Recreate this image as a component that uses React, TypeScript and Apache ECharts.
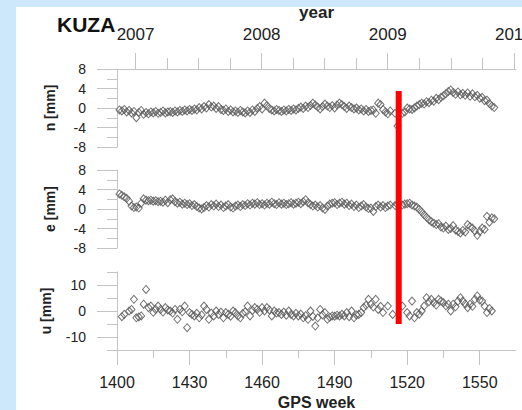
import React, { useEffect, useRef } from "react";
import * as echarts from "echarts";

const stationName = "KUZA";

const weeksNE = [
  1401, 1402, 1403, 1404, 1405, 1406, 1407, 1408, 1409, 1410,
  1411, 1412, 1413, 1414, 1415, 1416, 1417, 1418, 1419, 1420,
  1421, 1422, 1423, 1424, 1425, 1426, 1427, 1428, 1429, 1430,
  1431, 1432, 1433, 1434, 1435, 1436, 1437, 1438, 1439, 1440,
  1441, 1442, 1443, 1444, 1445, 1446, 1447, 1448, 1449, 1450,
  1451, 1452, 1453, 1454, 1455, 1456, 1457, 1458, 1459, 1460,
  1461, 1462, 1463, 1464, 1465, 1466, 1467, 1468, 1469, 1470,
  1471, 1472, 1473, 1474, 1475, 1476, 1477, 1478, 1479, 1480,
  1481, 1482, 1483, 1484, 1485, 1486, 1487, 1488, 1489, 1490,
  1491, 1492, 1493, 1494, 1495, 1496, 1497, 1498, 1499, 1500,
  1501, 1502, 1503, 1504, 1505, 1506, 1507, 1508, 1509, 1510,
  1511, 1512, 1513,
  1515, 1516, 1518, 1519,
  1520, 1521, 1522, 1523, 1524, 1525, 1526, 1527, 1528, 1529,
  1530, 1531, 1532, 1533, 1534, 1535, 1536, 1537, 1538, 1539,
  1540, 1541, 1542, 1543, 1544, 1545, 1546, 1547, 1548, 1549,
  1550, 1551, 1552, 1553, 1554, 1555, 1556,
];

const nValues = [
  -0.4, -0.6, -0.3, -0.8, -0.5, -1.0, -0.7, -2.0, -0.9, -0.5,
  -1.3, -0.9, -1.2, -0.8, -1.0, -0.7, -1.1, -0.9, -0.6, -1.0,
  -0.8, -0.7, -0.9, -0.6, -0.8, -0.5, -0.7, -0.4, -0.6, -0.3,
  -0.5, -0.2, -0.4, 0.1, -0.2, 0.3, 0.0, 0.7, 0.2, 0.4,
  -0.1, 0.3, -0.3, -0.5, -0.2, -0.7, -0.4, -0.8, -0.6, -0.9,
  -0.5, -0.8, -1.0, -0.6, -0.9, -0.4, -0.7, -0.1, 0.3, -0.2,
  1.0, 0.5, -0.1, -0.4, -0.6, -0.3, -0.5, -0.7, -0.4, -0.6,
  -0.3, -0.5, -0.2, -0.4, -0.1, 0.2, -0.1, 0.4, 0.1, 0.5,
  1.0, 0.6, 0.2, -0.2, 0.3, 0.8, 0.4, 0.1, 0.5, 0.0,
  0.6, 1.0, 0.7, 0.3, -0.1, 0.4, 0.1, -0.2, 0.0, -0.4,
  -0.2, -0.6, -0.3, -0.7, -0.5, -0.4, -1.1, 1.0, 0.7, -0.3,
  -0.8, -1.2, -0.6,
  -1.1, -3.7, -1.1, -0.8,
  0.0, -0.2, -0.3, 0.0, 0.4, 0.7, 1.0, 0.8, 1.3, 1.1,
  1.6, 1.4, 2.0, 1.7, 2.2, 2.5, 2.9, 3.4, 3.7, 3.2,
  2.8, 3.3, 2.7, 3.0, 2.6, 3.1, 2.4, 2.9, 2.3, 2.6,
  2.0, 2.2, 1.5, 1.6, 0.9, 0.4, 0.1,
];

const eValues = [
  3.1, 2.8, 2.5, 2.2, 1.6, 0.6, 0.3, 0.4, 0.2, 1.2,
  2.1, 1.8, 1.7, 1.8, 1.6, 1.7, 1.5, 1.6, 1.4, 1.8,
  1.3, 1.9, 2.1, 1.5, 1.2, 1.4, 1.0, 1.2, 0.9, 1.1,
  0.7, 0.9, 0.5, 0.2, 0.0, 0.3, 0.7, 0.4, 0.9, 0.6,
  1.0, 0.5, 0.8, 0.3, 0.6, 0.9, 0.4, 0.2, 0.6, 0.8,
  0.5, 0.9, 0.7, 1.1, 0.8, 1.2, 1.0, 1.3, 0.9, 1.1,
  0.8, 1.2, 1.0, 1.4, 1.1, 0.9, 1.3, 1.0, 1.2, 0.9,
  1.1, 1.3, 1.0, 1.2, 1.4, 1.1, 1.5, 1.9, 1.3, 0.9,
  0.6, 0.8, 0.4, 0.7, 0.2, -0.1, 0.6, 1.0, 1.2, 1.3,
  0.9, 1.2, 1.4, 1.0, 1.2, 0.7, 1.0, 0.5, 0.8, 0.3,
  0.6, 0.9, 0.4, 0.1, 0.2, -0.5, 0.5, 0.8, 0.4, 0.7,
  0.3, 0.6, 0.8,
  0.7, 0.9, 0.8, 1.0,
  1.1, 1.2, 0.8, 0.6, 0.4, -0.1, -0.6, -1.2, -1.7, -2.2,
  -2.6, -2.9, -3.2, -3.0, -3.7, -3.9, -3.5, -4.2, -4.0, -3.4,
  -4.3, -4.6, -4.9, -4.4, -4.7, -3.2, -3.6, -3.9, -4.5, -5.4,
  -4.6, -3.9, -4.2, -1.5, -2.7, -1.8, -2.0,
];

const uWeeks = [
  1402, 1403, 1405, 1406, 1407, 1408, 1409, 1410, 1411, 1412,
  1413, 1414, 1415, 1416, 1417, 1418, 1419, 1420, 1421, 1422,
  1423, 1424, 1425, 1426, 1427, 1428, 1429, 1430, 1431, 1432,
  1433, 1434, 1435, 1436, 1437, 1438, 1439, 1440, 1441, 1442,
  1443, 1444, 1445, 1446, 1447, 1448, 1449, 1450, 1451, 1452,
  1453, 1454, 1455, 1456, 1457, 1458, 1459, 1460, 1461, 1462,
  1463, 1464, 1465, 1466, 1467, 1468, 1469, 1470, 1471, 1472,
  1473, 1474, 1475, 1476, 1477, 1478, 1479, 1480, 1481, 1482,
  1483, 1484, 1485, 1486, 1487, 1488, 1489, 1490, 1491, 1492,
  1493, 1494, 1495, 1496, 1497, 1498, 1499, 1500, 1501, 1502,
  1503, 1504, 1505, 1506, 1507, 1508, 1509, 1510, 1512, 1514,
  1518, 1520, 1521, 1522, 1523, 1524, 1525, 1526, 1527, 1528,
  1529, 1530, 1531, 1532, 1533, 1534, 1535, 1536, 1537, 1538,
  1539, 1540, 1541, 1542, 1543, 1544, 1545, 1546, 1547, 1548,
  1549, 1550, 1551, 1552, 1553, 1554, 1555,
];

const uValues = [
  -2.2, -1.3, 0.0, 0.6, 4.5, -2.6, -2.3, -1.9, 2.6, 8.3,
  1.3, 1.9, -0.5, 0.6, 1.9, 0.6, -0.4, 1.3, 0.4, 0.0,
  -0.8, 0.6, -3.2, 0.6, -0.3, 1.9, -6.4, -0.6, -1.3, -1.9,
  -0.9, -2.6, -1.5, 1.9, 0.6, -3.2, -0.8, -1.9, 0.0, -1.3,
  -0.4, -2.6, -0.6, -1.3, -2.0, 0.0, -0.7, -1.9, -2.6, -1.0,
  -0.3, 1.9, -1.9, 0.2, 1.3, 0.6, -0.5, 1.3, 0.0, 1.3,
  0.4, -1.9, 0.0, -0.8, -0.6, -1.3, -0.4, -1.6, 0.0, -1.3,
  -1.9, -0.9, -1.9, -1.2, -2.6, -1.8, -3.2, 0.0, -2.1, -5.8,
  -2.6, 0.6, -1.5, -0.6, -3.2, -2.4, -1.9, -2.0, -1.6, -1.9,
  -1.3, -1.9, -0.6, -2.2, 0.0, -2.6, -1.5, -1.3, -0.6, 1.3,
  2.2, 4.5, 2.6, 1.5, 4.5, 0.6, 1.8, -0.6, 1.9, -1.3,
  1.9, -0.6, -1.9, 3.8, -2.6, -0.6, -1.2, 0.0, 1.9, 5.1,
  3.6, 4.5, 3.2, 2.3, 4.5, 3.8, 3.2, 2.0, 2.6, 0.0,
  2.6, 1.6, 3.8, 5.1, 3.8, 2.7, 1.3, 2.6, 1.8, 4.5,
  5.8, 4.2, 3.8, 1.9, -0.6, 1.0, 0.0,
];

const gpsWeekLabels = [1400, 1430, 1460, 1490, 1520, 1550];
const gpsWeekMinorTicks = [1415, 1445, 1475, 1505, 1535];
const weekMin = 1400;
const weekMax = 1565;

const yearLabels = [2007, 2008, 2009, 2010];
const yearMinorTicks = [
  2007.25, 2007.5, 2007.75, 2008.25, 2008.5, 2008.75, 2009.25, 2009.5, 2009.75,
];
const yearMin = 2006.853;
const yearMax = 2010.017;

const uMajorTicks = [-10, 0, 10];
const uMinorTicks = [-15, -5, 5, 15];

const redLineWeek = 1516.5;
const redLineSpan = [0.0925, 0.922];

const FONT = "'Liberation Sans', Arial, sans-serif";
const AXIS_COLOR = "#c4c4c4";
const TEXT_COLOR = "#222";

function pairs(xs: number[], ys: number[]) {
  return xs.map((x, i) => [x, ys[i]]);
}

const plain = (v: number) => String(v);

export default function App() {
  const ref = useRef<HTMLDivElement>(null);

  useEffect(() => {
    document.body.style.margin = "0";
    if (!ref.current) return;
    const chart = echarts.init(ref.current, undefined, { renderer: "svg" });

    const L = 117;
    const W = 399;
    const gridTops = [69, 170, 272];
    const H = 78;

    const hiddenX = (gridIndex: number) => ({
      type: "value",
      gridIndex,
      min: weekMin,
      max: weekMax,
      show: false,
    });

    const yLabelStyle = {
      fontSize: 14,
      color: TEXT_COLOR,
      fontFamily: FONT,
      margin: 31,
      formatter: plain,
    };
    const yNameStyle = {
      fontSize: 14,
      fontWeight: "bold",
      color: TEXT_COLOR,
      fontFamily: FONT,
    };

    const nyAxis = (gridIndex: number, name: string) => ({
      type: "value",
      gridIndex,
      min: -8,
      max: 8,
      interval: 4,
      position: "left",
      name,
      nameLocation: "middle",
      nameGap: 60,
      nameTextStyle: yNameStyle,
      axisLine: { show: true, lineStyle: { color: AXIS_COLOR, width: 1 } },
      axisTick: { show: true, length: 20, lineStyle: { color: AXIS_COLOR } },
      minorTick: {
        show: true,
        splitNumber: 2,
        length: 10,
        lineStyle: { color: AXIS_COLOR },
      },
      splitLine: { show: false },
      minorSplitLine: { show: false },
      axisLabel: yLabelStyle,
    });

    const scatterStyle = {
      type: "scatter",
      symbol: "diamond",
      symbolSize: [7, 8],
      itemStyle: {
        color: "rgba(255,255,255,0)",
        borderColor: "#5c5c5c",
        borderWidth: 1,
        opacity: 0.85,
      },
    };

    const gridBase = {
      left: L,
      width: W,
      height: H,
      containLabel: false,
      outerBoundsMode: "none",
    };

    const option: any = {
      animation: false,
      title: {
        text: stationName,
        left: 52,
        top: 9,
        textStyle: {
          fontSize: 21,
          fontWeight: "bold",
          color: "#111",
          fontFamily: FONT,
        },
      },
      grid: [
        { ...gridBase, top: gridTops[0] },
        { ...gridBase, top: gridTops[1] },
        { ...gridBase, top: gridTops[2] },
        { ...gridBase, top: 69, height: 281 },
      ],
      xAxis: [
        hiddenX(0),
        hiddenX(1),
        hiddenX(2),
        {
          type: "value",
          gridIndex: 3,
          min: weekMin,
          max: weekMax,
          position: "bottom",
          name: "GPS week",
          nameLocation: "middle",
          nameGap: 40,
          nameTextStyle: {
            fontSize: 16,
            fontWeight: "bold",
            color: TEXT_COLOR,
            fontFamily: FONT,
          },
          axisLine: { show: true, lineStyle: { color: AXIS_COLOR } },
          axisTick: {
            show: true,
            length: 15,
            customValues: gpsWeekLabels,
            lineStyle: { color: AXIS_COLOR },
          },
          axisLabel: {
            customValues: gpsWeekLabels,
            formatter: plain,
            fontSize: 16,
            color: TEXT_COLOR,
            fontFamily: FONT,
            margin: 24,
          },
          splitLine: { show: false },
        },
        {
          type: "value",
          gridIndex: 3,
          min: weekMin,
          max: weekMax,
          position: "bottom",
          axisLine: { show: false },
          axisTick: {
            show: true,
            length: 8,
            customValues: gpsWeekMinorTicks,
            lineStyle: { color: AXIS_COLOR },
          },
          axisLabel: { show: false },
          splitLine: { show: false },
        },
        {
          type: "value",
          gridIndex: 3,
          min: yearMin,
          max: yearMax,
          position: "top",
          name: "year",
          nameLocation: "middle",
          nameGap: 36,
          nameTextStyle: {
            fontSize: 17,
            fontWeight: "bold",
            color: TEXT_COLOR,
            fontFamily: FONT,
          },
          axisLine: { show: true, lineStyle: { color: AXIS_COLOR } },
          axisTick: {
            show: true,
            length: 16,
            customValues: yearLabels,
            lineStyle: { color: AXIS_COLOR },
          },
          axisLabel: {
            customValues: yearLabels,
            formatter: plain,
            fontSize: 17,
            color: TEXT_COLOR,
            fontFamily: FONT,
            margin: 26,
          },
          splitLine: { show: false },
        },
        {
          type: "value",
          gridIndex: 3,
          min: yearMin,
          max: yearMax,
          position: "top",
          axisLine: { show: false },
          axisTick: {
            show: true,
            length: 11,
            customValues: yearMinorTicks,
            lineStyle: { color: AXIS_COLOR },
          },
          axisLabel: { show: false },
          splitLine: { show: false },
        },
      ],
      yAxis: [
        nyAxis(0, "n [mm]"),
        nyAxis(1, "e [mm]"),
        {
          type: "value",
          gridIndex: 2,
          min: -15,
          max: 15,
          position: "left",
          name: "u [mm]",
          nameLocation: "middle",
          nameGap: 64,
          nameTextStyle: yNameStyle,
          axisLine: { show: true, lineStyle: { color: AXIS_COLOR } },
          axisTick: {
            show: true,
            length: 20,
            customValues: uMajorTicks,
            lineStyle: { color: AXIS_COLOR },
          },
          axisLabel: { ...yLabelStyle, customValues: uMajorTicks },
          splitLine: { show: false },
        },
        {
          type: "value",
          gridIndex: 2,
          min: -15,
          max: 15,
          position: "left",
          axisLine: { show: false },
          axisTick: {
            show: true,
            length: 10,
            customValues: uMinorTicks,
            lineStyle: { color: AXIS_COLOR },
          },
          axisLabel: { show: false },
          splitLine: { show: false },
        },
        {
          type: "value",
          gridIndex: 3,
          min: 0,
          max: 1,
          show: false,
        },
      ],
      series: [
        {
          ...scatterStyle,
          name: "n",
          xAxisIndex: 0,
          yAxisIndex: 0,
          data: pairs(weeksNE, nValues),
        },
        {
          ...scatterStyle,
          name: "e",
          xAxisIndex: 1,
          yAxisIndex: 1,
          data: pairs(weeksNE, eValues),
        },
        {
          ...scatterStyle,
          name: "u",
          xAxisIndex: 2,
          yAxisIndex: 2,
          data: pairs(uWeeks, uValues),
        },
        {
          type: "line",
          name: "break",
          xAxisIndex: 3,
          yAxisIndex: 4,
          symbol: "none",
          z: 10,
          lineStyle: { color: "#ff0000", width: 6, cap: "butt" },
          data: [
            [redLineWeek, redLineSpan[0]],
            [redLineWeek, redLineSpan[1]],
          ],
        },
      ],
    };

    chart.setOption(option);
    return () => chart.dispose();
  }, []);

  return (
    <div
      style={{
        position: "relative",
        width: 522,
        height: 410,
        background: "#cde8fb",
        overflow: "hidden",
      }}
    >
      <div
        style={{
          position: "absolute",
          left: 16,
          top: 7,
          width: 506,
          height: 403,
          background: "#ffffff",
        }}
      />
      <div
        ref={ref}
        style={{ position: "absolute", left: 0, top: 0, width: 522, height: 410 }}
      />
    </div>
  );
}
